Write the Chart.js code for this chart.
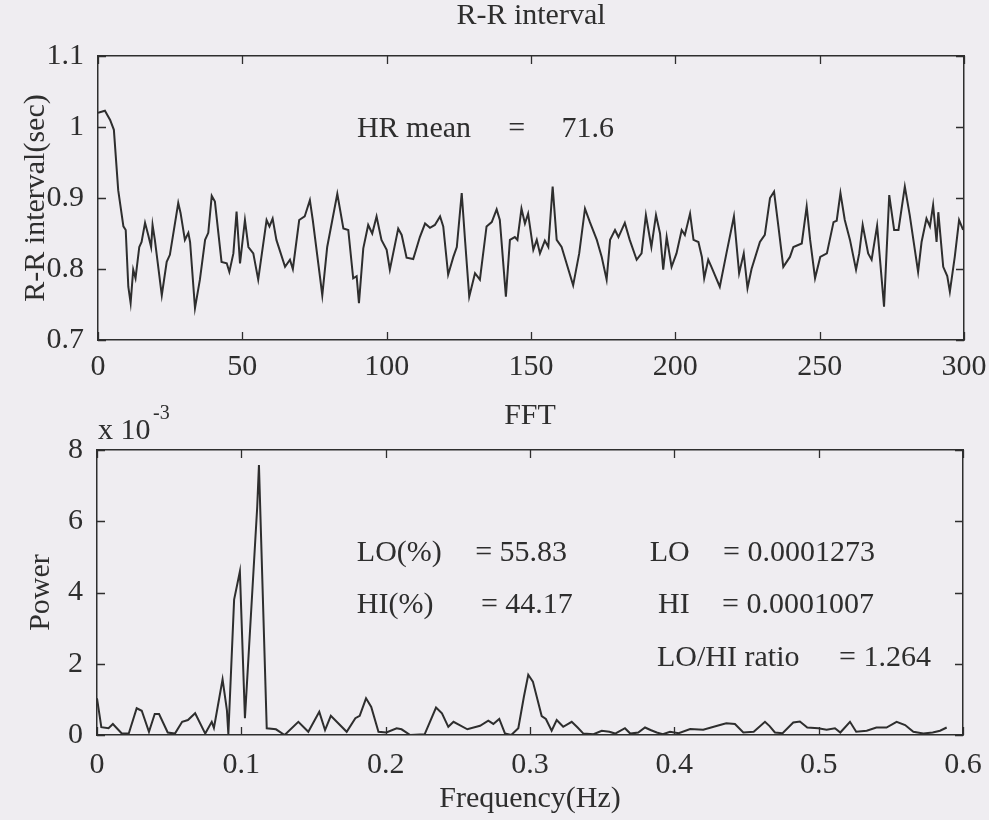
<!DOCTYPE html>
<html>
<head>
<meta charset="utf-8">
<script src="https://cdn.jsdelivr.net/npm/chart.js@4.4.1/dist/chart.umd.min.js"></script>
<style>
  html, body { margin: 0; padding: 0; background: #efedf1; }
  #wrap { position: relative; width: 989px; height: 820px; }
  canvas { position: absolute; left: 0; }
  #rrChart { top: 0; }
  #fftChart { top: 390px; }
</style>
</head>
<body>
<div id="wrap">
  <canvas id="rrChart" width="989" height="390"></canvas>
  <canvas id="fftChart" width="989" height="430"></canvas>
</div>
<script>
// R-R interval (sec) against time (sec)
const rrTime = [0, 2.4, 4.2, 5.5, 7.0, 8.8, 9.6, 10.5, 11.3, 12.2, 13.0, 14.3, 15.1, 16.3, 17.4, 18.4, 18.9, 19.7,
  22.1, 23.8, 24.9, 27.8, 28.6, 30.1, 31.3, 31.9, 33.6, 35.3, 37.1, 38.2, 39.4, 40.5, 42.8, 44.6, 45.5, 46.9,
  48.0, 49.2, 50.9, 52.1, 53.8, 55.5, 58.4, 59.4, 60.5, 61.8, 64.8, 66.5, 67.5, 69.7, 71.6, 73.4, 74.4, 76.9,
  77.7, 79.4, 82.9, 85.0, 86.7, 88.4, 89.6, 90.4, 91.9, 93.6, 95.0, 96.5, 98.2, 100.0, 101.1, 104.0, 105.2,
  106.9, 109.2, 111.5, 113.3, 115.0, 116.7, 118.5, 119.6, 121.3, 123.1, 124.3, 126.0, 127.2, 128.6, 130.6,
  132.3, 134.6, 136.4, 138.1, 139.2, 141.3, 142.7, 144.4, 145.3, 146.7, 147.9, 149.0, 150.8, 152.0, 153.1,
  154.8, 156.0, 157.5, 158.9, 160.6, 162.3, 164.6, 166.7, 168.7, 170.4, 172.8, 174.5, 176.2, 177.4, 179.1,
  180.3, 182.5, 184.2, 186.6, 188.3, 189.8, 191.7, 193.3, 194.7, 195.8, 197.0, 198.7, 200.4, 202.2, 203.3,
  205.1, 206.3, 208.0, 209.2, 210.0, 211.4, 212.5, 215.4, 217.7, 220.3, 222.1, 223.7, 225.0, 226.4, 229.3,
  231.0, 232.8, 234.2, 235.7, 237.4, 239.7, 240.9, 243.8, 245.5, 246.7, 248.4, 250.2, 252.5, 254.8, 255.9,
  257.2, 258.7, 260.5, 262.6, 263.7, 264.9, 266.8, 268.0, 269.9, 272.3, 274.1, 275.8, 277.3, 279.5, 281.2,
  284.1, 285.3, 287.0, 288.2, 289.3, 290.5, 291.1, 292.8, 294.2, 295.1, 296.8, 298.3, 299.7];
const rrValue = [1.020, 1.023, 1.010, 0.996, 0.911, 0.860, 0.855, 0.775, 0.752, 0.799, 0.787, 0.831, 0.838, 0.865, 0.848, 0.831, 0.862, 0.841,
  0.763, 0.810, 0.820, 0.893, 0.879, 0.841, 0.851, 0.838, 0.745, 0.785, 0.841, 0.851, 0.903, 0.895, 0.810, 0.808, 0.796, 0.822,
  0.881, 0.808, 0.869, 0.831, 0.822, 0.785, 0.869, 0.860, 0.871, 0.841, 0.803, 0.813, 0.800, 0.869, 0.874, 0.897, 0.869, 0.789,
  0.763, 0.831, 0.906, 0.857, 0.855, 0.787, 0.790, 0.752, 0.829, 0.862, 0.850, 0.874, 0.841, 0.827, 0.799, 0.857, 0.848,
  0.816, 0.814, 0.845, 0.864, 0.858, 0.862, 0.874, 0.860, 0.792, 0.817, 0.831, 0.907, 0.838, 0.761, 0.794,
  0.785, 0.860, 0.866, 0.884, 0.869, 0.761, 0.841, 0.845, 0.841, 0.885, 0.864, 0.878, 0.827, 0.841, 0.822,
  0.840, 0.831, 0.916, 0.841, 0.831, 0.808, 0.777, 0.822, 0.885, 0.866, 0.841, 0.817, 0.785, 0.841, 0.855,
  0.845, 0.865, 0.841, 0.813, 0.822, 0.876, 0.831, 0.876, 0.850, 0.799, 0.845, 0.803, 0.822, 0.855, 0.848,
  0.878, 0.841, 0.838, 0.817, 0.787, 0.813, 0.803, 0.775, 0.822, 0.874, 0.794, 0.822, 0.773, 0.800, 0.838,
  0.848, 0.900, 0.909, 0.860, 0.803, 0.817, 0.831, 0.836, 0.888, 0.841, 0.787, 0.817, 0.822, 0.866, 0.868,
  0.907, 0.869, 0.841, 0.799, 0.822, 0.862, 0.822, 0.813, 0.861, 0.747, 0.904, 0.855, 0.855, 0.916, 0.876,
  0.796, 0.838, 0.871, 0.860, 0.890, 0.838, 0.880, 0.803, 0.790, 0.768, 0.817, 0.869, 0.855];

// FFT power spectrum, power in units of 1e-3
const fftFreq = [0, 0.003, 0.008, 0.011, 0.017, 0.022, 0.0275, 0.031, 0.036, 0.040, 0.043, 0.049, 0.054, 0.059, 0.063,
  0.068, 0.075, 0.0795, 0.081, 0.082, 0.087, 0.090, 0.091, 0.095, 0.099, 0.1025, 0.111, 0.1122, 0.1176, 0.124,
  0.130, 0.1395, 0.1464, 0.154, 0.158, 0.162, 0.173, 0.179, 0.182, 0.1864, 0.190, 0.195, 0.2005, 0.2076, 0.211,
  0.217, 0.227, 0.2349, 0.239, 0.2434, 0.247, 0.2566, 0.2654, 0.2711, 0.2746, 0.2787, 0.2827, 0.287, 0.2919,
  0.2958, 0.2988, 0.302, 0.3081, 0.311, 0.315, 0.3185, 0.323, 0.3289, 0.333, 0.337, 0.344, 0.3497, 0.355, 0.359,
  0.3658, 0.3695, 0.375, 0.3797, 0.3835, 0.3878, 0.392, 0.397, 0.403, 0.411, 0.420, 0.4316, 0.436, 0.442, 0.4478,
  0.455, 0.4628, 0.466, 0.4697, 0.475, 0.4824, 0.487, 0.4921, 0.4997, 0.5055, 0.5113, 0.515, 0.5217, 0.526,
  0.5333, 0.540, 0.547, 0.554, 0.5599, 0.5656, 0.5725, 0.579, 0.5841, 0.5887];
const fftPowerE3 = [1.03, 0.22, 0.19, 0.31, 0.05, 0.04, 0.75, 0.68, 0.09, 0.59, 0.59, 0.07, 0.04, 0.37, 0.42,
  0.61, 0.04, 0.37, 0.20, 0.42, 1.56, 0.70, 0.02, 3.80, 4.59, 0.47, 6.40, 7.58, 0.19, 0.16,
  0.00, 0.37, 0.09, 0.65, 0.14, 0.54, 0.09, 0.47, 0.54, 1.03, 0.79, 0.09, 0.07, 0.19, 0.16,
  0.00, 0.02, 0.77, 0.61, 0.23, 0.37, 0.16, 0.26, 0.40, 0.31, 0.45, 0.04, 0.00, 0.19,
  1.08, 1.69, 1.50, 0.53, 0.45, 0.12, 0.42, 0.23, 0.37, 0.21, 0.04, 0.02, 0.12, 0.09, 0.04,
  0.19, 0.04, 0.07, 0.21, 0.14, 0.07, 0.02, 0.09, 0.05, 0.17, 0.15, 0.28, 0.33, 0.31, 0.07,
  0.09, 0.37, 0.25, 0.07, 0.05, 0.35, 0.38, 0.21, 0.19, 0.15, 0.19, 0.07, 0.37, 0.09,
  0.12, 0.21, 0.21, 0.37, 0.28, 0.09, 0.04, 0.07, 0.12, 0.21];

const rrXTicks = [0, 50, 100, 150, 200, 250, 300];
const rrYTicks = [0.7, 0.8, 0.9, 1.0, 1.1];
const fftXTicks = [0, 0.1, 0.2, 0.3, 0.4, 0.5, 0.6];
const fftYTicks = [0, 2, 4, 6, 8];

// text written inside the plots, placed in data units
const rrNotes = [
  { text: "HR mean", x: 89.7, y: 0.986 },
  { text: "=", x: 142.1, y: 0.986 },
  { text: "71.6", x: 160.6, y: 0.986 }
];
const fftNotes = [
  { text: "LO(%)", x: 0.180, y: 4.89 },
  { text: "= 55.83", x: 0.262, y: 4.89 },
  { text: "HI(%)", x: 0.180, y: 3.43 },
  { text: "= 44.17", x: 0.266, y: 3.43 },
  { text: "LO", x: 0.383, y: 4.89 },
  { text: "= 0.0001273", x: 0.4337, y: 4.89 },
  { text: "HI", x: 0.3887, y: 3.43 },
  { text: "= 0.0001007", x: 0.433, y: 3.43 },
  { text: "LO/HI ratio", x: 0.388, y: 1.94 },
  { text: "= 1.264", x: 0.5141, y: 1.94 }
];

const FONT = "'Liberation Serif', 'Times New Roman', serif";
const INK = "#2e2e2e";

// MATLAB style ticks: short marks pointing into the box on all four sides
const boxTicks = {
  id: "boxTicks",
  afterDatasetsDraw(chart) {
    const { ctx, chartArea: a, scales } = chart;
    const len = 8;
    ctx.save();
    ctx.strokeStyle = INK;
    ctx.lineWidth = 1.3;
    ctx.beginPath();
    scales.x.ticks.forEach(t => {
      const px = Math.round(scales.x.getPixelForValue(t.value)) + 0.5;
      ctx.moveTo(px, a.bottom); ctx.lineTo(px, a.bottom - len);
      ctx.moveTo(px, a.top); ctx.lineTo(px, a.top + len);
    });
    scales.y.ticks.forEach(t => {
      const py = Math.round(scales.y.getPixelForValue(t.value)) + 0.5;
      ctx.moveTo(a.left, py); ctx.lineTo(a.left + len, py);
      ctx.moveTo(a.right, py); ctx.lineTo(a.right - len, py);
    });
    ctx.stroke();
    ctx.restore();
  }
};

function notesPlugin(items, withExponent) {
  return {
    id: "notes",
    afterDatasetsDraw(chart) {
      const { ctx, chartArea: a, scales: { x, y } } = chart;
      ctx.save();
      ctx.fillStyle = INK;
      ctx.textBaseline = "alphabetic";
      ctx.textAlign = "left";
      ctx.font = "30px " + FONT;
      items.forEach(n => ctx.fillText(n.text, x.getPixelForValue(n.x), y.getPixelForValue(n.y)));
      if (withExponent) {
        ctx.fillText("x 10", a.left + 1, a.top - 11);
        ctx.font = "20px " + FONT;
        ctx.fillText("-3", a.left + 56, a.top - 31);
      }
      ctx.restore();
    }
  };
}

function fmt(v) {
  return String(+v.toFixed(2));
}

function makeChart(id, cfg) {
  const tickFont = { family: FONT, size: 30, lineHeight: 1.2 };
  const titleFont = { family: FONT, size: 30, lineHeight: 1 };
  const hidden = { display: false, drawTicks: false };
  const border = { display: true, color: INK, width: 1.5 };
  return new Chart(document.getElementById(id), {
    type: "line",
    data: {
      datasets: [{
        data: cfg.xs.map((v, i) => ({ x: v, y: cfg.ys[i] })),
        borderColor: INK,
        borderWidth: 2,
        pointRadius: 0,
        tension: 0,
        fill: false
      }]
    },
    options: {
      responsive: false,
      animation: false,
      layout: { padding: 0 },
      plugins: { legend: { display: false }, tooltip: { enabled: false } },
      scales: {
        x: {
          type: "linear", position: "bottom", min: cfg.xTicks[0], max: cfg.xTicks[cfg.xTicks.length - 1],
          afterBuildTicks: s => { s.ticks = cfg.xTicks.map(v => ({ value: v })); },
          ticks: { font: tickFont, color: INK, padding: cfg.xPad, maxRotation: 0, autoSkip: false, callback: fmt },
          grid: hidden, border,
          title: cfg.xTitle ? { display: true, text: cfg.xTitle, font: titleFont, color: INK, padding: { bottom: 6 } } : { display: false },
          // the box edges are fixed by hand, so the end labels may hang over them
          afterFit: s => { s.height = cfg.bottom; s.paddingLeft = 0; s.paddingRight = 0; }
        },
        xTop: {
          type: "linear", position: "top", min: cfg.xTicks[0], max: cfg.xTicks[cfg.xTicks.length - 1],
          ticks: { display: false }, grid: hidden, border,
          title: { display: true, text: cfg.title, font: titleFont, color: INK, padding: { top: cfg.titlePad, bottom: 0 } },
          afterFit: s => { s.height = cfg.top; s.paddingLeft = 0; s.paddingRight = 0; }
        },
        y: {
          type: "linear", position: "left", min: cfg.yTicks[0], max: cfg.yTicks[cfg.yTicks.length - 1],
          afterBuildTicks: s => { s.ticks = cfg.yTicks.map(v => ({ value: v })); },
          ticks: { font: tickFont, color: INK, padding: 14, callback: fmt },
          grid: hidden, border,
          title: { display: true, text: cfg.yTitle, font: titleFont, color: INK, padding: { top: cfg.yTitlePad, bottom: 0 } },
          afterFit: s => { s.width = cfg.left; s.paddingTop = 0; s.paddingBottom = 0; }
        },
        yRight: {
          type: "linear", position: "right", min: cfg.yTicks[0], max: cfg.yTicks[cfg.yTicks.length - 1],
          ticks: { display: false }, grid: hidden, border,
          afterFit: s => { s.width = cfg.right; }
        }
      }
    },
    plugins: [boxTicks, notesPlugin(cfg.notes, cfg.exponent)]
  });
}

makeChart("rrChart", {
  xs: rrTime, ys: rrValue, xTicks: rrXTicks, yTicks: rrYTicks,
  title: "R-R interval", titlePad: 1, yTitle: "R-R interval(sec)", yTitlePad: 21,
  top: 56, bottom: 50, left: 98, right: 25, xPad: 9,
  notes: rrNotes, exponent: false
});

makeChart("fftChart", {
  xs: fftFreq, ys: fftPowerE3, xTicks: fftXTicks, yTicks: fftYTicks,
  title: "FFT", titlePad: 11, yTitle: "Power", yTitlePad: 26, xTitle: "Frequency(Hz)",
  top: 60, bottom: 85, left: 97, right: 26, xPad: 12,
  notes: fftNotes, exponent: true
});
</script>
</body>
</html>
